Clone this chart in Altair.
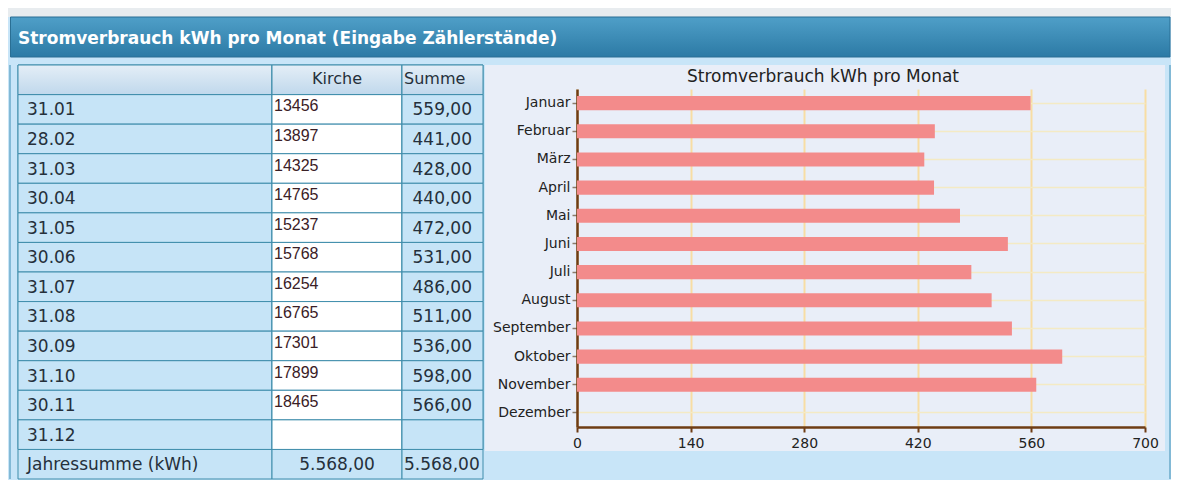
import altair as alt
import pandas as pd

# ---------------- data ----------------
page_title = ["Stromverbrauch kWh pro Monat (Eingabe Zählerstände)"]
chart_title = ["Stromverbrauch kWh pro Monat"]
dates = ["31.01", "28.02", "31.03", "30.04", "31.05", "30.06",
         "31.07", "31.08", "30.09", "31.10", "30.11", "31.12"]
kirche = ["13456", "13897", "14325", "14765", "15237", "15768",
          "16254", "16765", "17301", "17899", "18465", ""]
summe = [559, 441, 428, 440, 472, 531, 486, 511, 536, 598, 566, None]
months = ["Januar", "Februar", "März", "April", "Mai", "Juni", "Juli",
          "August", "September", "Oktober", "November", "Dezember"]
col_headers = ["", "Kirche", "Summe"]
total_label = "Jahressumme (kWh)"
x_ticks = [0, 140, 280, 420, 560, 700]


def de(v):
    s = f"{v:,.2f}"
    return s.replace(",", "X").replace(".", ",").replace("X", ".")


total = sum(v for v in summe if v is not None)
n = len(dates)
tbl = pd.DataFrame({
    "r": list(range(n + 2)),
    "kind": ["hdr"] + ["row"] * n + ["sum"],
    "c1": [col_headers[0]] + dates + [total_label],
    "c2": [col_headers[1]] + kirche + [de(total)],
    "c3": [col_headers[2]] + [de(v) if v is not None else "" for v in summe] + [de(total)],
})
bar_df = pd.DataFrame({"Monat": months, "kWh": summe})
hdr_df = pd.DataFrame({"t": page_title})
ttl_df = pd.DataFrame({"t": chart_title})

# ---------------- style ----------------
FONT = "DejaVu Sans"
LIGHT = "#c8e5f8"
CELL = "#c6e4f7"
TEAL = "#3f8dab"
TXT = "#25303b"
BROWN = "#6e3c14"
TOTAL_W = 1163
HEAD_H = 49
BODY_H = 414
BAR_W, BAR_H = 680, 386

HDR_GRAD = alt.LinearGradient(
    gradient="linear",
    stops=[alt.GradientStop(color="#e4eef7", offset=0),
           alt.GradientStop(color="#c0d8ec", offset=1)],
    x1=0, x2=0, y1=0, y2=1)
TITLE_GRAD = alt.LinearGradient(
    gradient="linear",
    stops=[alt.GradientStop(color="#4f9fc8", offset=0),
           alt.GradientStop(color="#2c7aa5", offset=1)],
    x1=0, x2=0, y1=0, y2=1)

# ---------------- header bar ----------------
strip = alt.Chart(hdr_df).mark_rect(color="#e8ecef").encode(
    x=alt.value(0), x2=alt.value(TOTAL_W), y=alt.value(0), y2=alt.value(9))
band = alt.Chart(hdr_df).mark_rect(fill=TITLE_GRAD, stroke="#2a6f94").encode(
    x=alt.value(2.5), x2=alt.value(TOTAL_W - 1), y=alt.value(9), y2=alt.value(HEAD_H))
head_txt = alt.Chart(hdr_df).mark_text(
    align="left", baseline="middle", font=FONT, fontSize=17,
    fontWeight="bold", color="white").encode(
    x=alt.value(10), y=alt.value(31), text="t:N")
header = alt.layer(strip, band, head_txt).properties(width=TOTAL_W, height=HEAD_H)

# ---------------- table ----------------
Y = alt.Y("r:O", axis=None, scale=alt.Scale(paddingInner=0, paddingOuter=0))


def column(width, row_fill, texts):
    base = alt.Chart(tbl)
    cells = base.mark_rect(stroke=TEAL, strokeWidth=1, fill=CELL).encode(y=Y)
    rows = base.mark_rect(stroke=TEAL, strokeWidth=1, fill=row_fill).encode(
        y=Y).transform_filter("datum.kind == 'row'")
    hdr = base.mark_rect(stroke=TEAL, strokeWidth=1, fill=HDR_GRAD).encode(
        y=Y).transform_filter("datum.kind == 'hdr'")
    return alt.layer(cells, rows, hdr, *texts).properties(width=width, height=BODY_H)


t = alt.Chart(tbl)
col1 = column(254, CELL, [
    t.mark_text(align="left", baseline="middle", font=FONT, fontSize=17,
                color=TXT, x=9, dy=1).encode(y=Y, text="c1:N")
    .transform_filter("datum.kind != 'hdr'"),
])
col2 = column(130, "#ffffff", [
    t.mark_text(align="center", baseline="middle", font=FONT, fontSize=16,
                color=TXT, x=65, dy=-1).encode(y=Y, text="c2:N")
    .transform_filter("datum.kind == 'hdr'"),
    t.mark_text(align="left", baseline="middle", font="Liberation Sans",
                fontSize=16, color="#3a2026", x=2, dy=-3).encode(y=Y, text="c2:N")
    .transform_filter("datum.kind == 'row'"),
    t.mark_text(align="center", baseline="middle", font=FONT, fontSize=17,
                color=TXT, x=65, dy=1).encode(y=Y, text="c2:N")
    .transform_filter("datum.kind == 'sum'"),
])
col3 = column(81, CELL, [
    t.mark_text(align="left", baseline="middle", font=FONT, fontSize=16,
                color=TXT, x=2, dy=-1).encode(y=Y, text="c3:N")
    .transform_filter("datum.kind == 'hdr'"),
    t.mark_text(align="right", baseline="middle", font=FONT, fontSize=17,
                color=TXT, x=70, dy=1).encode(y=Y, text="c3:N")
    .transform_filter("datum.kind == 'row'"),
    t.mark_text(align="left", baseline="middle", font=FONT, fontSize=17,
                color=TXT, x=2, dy=1).encode(y=Y, text="c3:N")
    .transform_filter("datum.kind == 'sum'"),
])

# ---------------- bar chart ----------------
bars = alt.Chart(bar_df).mark_bar(color="#f38b8b").encode(
    x=alt.X("kWh:Q",
            scale=alt.Scale(domain=[0, 700], range=[92, 660], nice=False, zero=True),
            axis=alt.Axis(values=x_ticks, title=None, orient="bottom", offset=-24,
                          grid=True, gridColor="#f8dda4", gridWidth=2,
                          domainColor=BROWN, domainWidth=2.5,
                          tickColor=BROWN, tickSize=5, tickWidth=2,
                          labelFont=FONT, labelFontSize=14, labelColor="#222",
                          labelPadding=4, labelFlush=False)),
    y=alt.Y("Monat:N", sort=months,
            scale=alt.Scale(range=[24, 362], paddingInner=0.5, paddingOuter=0.25),
            axis=alt.Axis(title=None, orient="left", offset=-92,
                          grid=True, gridColor="#f4eac4", gridWidth=1.5,
                          domainColor=BROWN, domainWidth=2.5,
                          tickColor="#8a7a6a", tickSize=5, tickWidth=1.5,
                          labelFont=FONT, labelFontSize=14, labelColor="#222",
                          labelPadding=2)),
)
bar_title = alt.Chart(ttl_df).mark_text(
    align="center", baseline="middle", font=FONT, fontSize=17, color="#222").encode(
    x=alt.value(BAR_W / 2 - 2), y=alt.value(12), text="t:N")
bar_chart = alt.layer(bars, bar_title).properties(
    width=BAR_W, height=BAR_H,
    view=alt.ViewBackground(fill="#e9eef8", stroke=None),
)


# ---------------- panel borders / gaps ----------------
def spacer(width, rule_x, opacity):
    return alt.Chart(hdr_df).mark_rule(color="#3d8db3", strokeWidth=1, opacity=opacity).encode(
        x=alt.value(rule_x), y=alt.value(0), y2=alt.value(BODY_H)
    ).properties(width=width, height=BODY_H)


body = alt.hconcat(spacer(10, 2, 1), col1, col2, col3, spacer(2, 1, 0),
                   bar_chart, spacer(6, 5, 1), spacing=0, bounds="flush")

chart = alt.vconcat(header, body, spacing=6).properties(
    padding=0, background=LIGHT
).configure_view(stroke=None)

chart.save("out.html", embed_options={"renderer": "svg", "actions": False})
